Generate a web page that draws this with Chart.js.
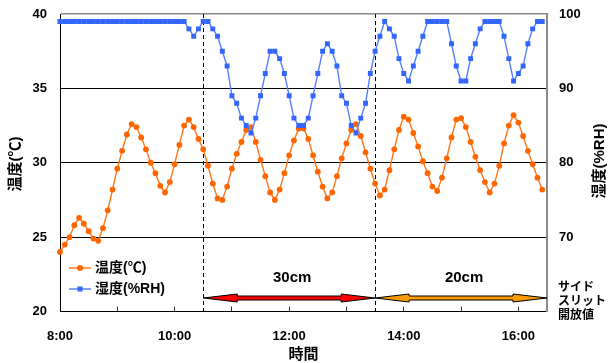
<!DOCTYPE html>
<html lang="ja">
<head>
<meta charset="utf-8">
<title>温度・湿度の推移</title>
<script src="https://cdn.jsdelivr.net/npm/chart.js@4/dist/chart.umd.min.js"></script>
<style>
  html, body { margin: 0; padding: 0; background: #fff; }
  #wrap { width: 610px; height: 363px; position: relative; }
  canvas { display: block; }
</style>
</head>
<body>
<div id="wrap"><canvas id="chart" width="610" height="363"></canvas></div>
<script>
// 5-minute sampling times; the last entry only closes the axis at 16:30
const sampleTimes = [
  '8:00','8:05','8:10','8:15','8:20','8:25','8:30','8:35','8:40','8:45','8:50','8:55',
  '9:00','9:05','9:10','9:15','9:20','9:25','9:30','9:35','9:40','9:45','9:50','9:55',
  '10:00','10:05','10:10','10:15','10:20','10:25','10:30','10:35','10:40','10:45','10:50','10:55',
  '11:00','11:05','11:10','11:15','11:20','11:25','11:30','11:35','11:40','11:45','11:50','11:55',
  '12:00','12:05','12:10','12:15','12:20','12:25','12:30','12:35','12:40','12:45','12:50','12:55',
  '13:00','13:05','13:10','13:15','13:20','13:25','13:30','13:35','13:40','13:45','13:50','13:55',
  '14:00','14:05','14:10','14:15','14:20','14:25','14:30','14:35','14:40','14:45','14:50','14:55',
  '15:00','15:05','15:10','15:15','15:20','15:25','15:30','15:35','15:40','15:45','15:50','15:55',
  '16:00','16:05','16:10','16:15','16:20','16:25','16:30'
];

// 温度 (℃)
const temperature = [
  24.0, 24.5, 25.0, 25.8, 26.3, 25.9, 25.4, 24.9, 24.75, 25.6, 26.8, 28.2,
  29.6, 30.8, 31.9, 32.6, 32.4, 31.7, 30.9, 30.0, 29.3, 28.45, 28.0, 28.7,
  29.9, 31.2, 32.5, 32.9, 32.4, 31.6, 30.9, 29.8, 28.6, 27.6, 27.5, 28.4,
  29.6, 30.6, 31.4, 32.2, 32.4, 31.4, 30.2, 29.1, 28.0, 27.5, 28.2, 29.3,
  30.5, 31.5, 32.3, 32.3, 31.6, 30.5, 29.4, 28.4, 27.6, 28.0, 29.1, 30.3,
  31.3, 32.2, 32.6, 31.8, 30.7, 29.6, 28.6, 27.8, 28.2, 29.5, 30.9, 32.2,
  33.1, 32.9, 32.0, 31.1, 30.1, 29.3, 28.4, 28.1, 29.0, 30.3, 31.7, 32.9,
  33.0, 32.4, 31.4, 30.4, 29.5, 28.7, 28.0, 28.6, 29.8, 31.3, 32.5, 33.2,
  32.7, 31.8, 30.8, 29.9, 29.0, 28.2
];

// 湿度 (%RH)
const humidity = [
  99, 99, 99, 99, 99, 99, 99, 99, 99, 99, 99, 99,
  99, 99, 99, 99, 99, 99, 99, 99, 99, 99, 99, 99,
  99, 99, 99, 98, 97, 98, 99, 99, 98, 97, 95, 93,
  89, 88, 86, 85, 84, 86, 89, 92, 95, 95, 94, 92,
  89, 86, 85, 85, 86, 89, 92, 95, 96, 95, 93, 89,
  88, 85, 84, 86, 88, 92, 95, 97, 99, 98, 97, 94,
  92, 91, 93, 95, 97, 99, 99, 99, 99, 99, 96, 93,
  91, 91, 94, 96, 98, 99, 99, 99, 99, 97, 94, 91,
  92, 93, 96, 98, 99, 99
];

// Axis ticks
const tempTicks = [20, 25, 30, 35, 40];
const humidTicks = [70, 80, 90, 100];
const hourLabels = ['8:00', '10:00', '12:00', '14:00', '16:00'];

// サイドスリット開放値 periods
const slitFrom = ['10:30', '13:30'];
const slitTo = ['13:30', '16:30'];
const slitWidths = ['30cm', '20cm'];

const seriesNames = ['温度(℃)', '湿度(%RH)'];

const COLORS = {
  temp: '#ff6600',
  tempLine: '#ff7518',
  humid: '#3366ff',
  humidLine: '#5580ff',
  slits: ['#ff0000', '#ff9a00']
};
const FONT = "'Liberation Sans', 'Noto Sans CJK JP', sans-serif";

Chart.defaults.font.family = FONT;
Chart.defaults.font.weight = 'bold';
Chart.defaults.color = '#000';

const overlay = {
  id: 'overlay',
  beforeDatasetsDraw(chart) {
    const { ctx, chartArea: a, scales: { x } } = chart;
    const marks = [...new Set([...slitFrom, ...slitTo])]
      .filter(t => t !== sampleTimes[sampleTimes.length - 1]);
    ctx.save();
    ctx.strokeStyle = '#000';
    ctx.lineWidth = 1;
    ctx.setLineDash([4, 3]);
    marks.forEach(t => {
      const px = Math.round(x.getPixelForValue(sampleTimes.indexOf(t))) + 0.5;
      ctx.beginPath();
      ctx.moveTo(px, a.top);
      ctx.lineTo(px, a.bottom);
      ctx.stroke();
    });
    ctx.restore();
  },
  afterDraw(chart) {
    const { ctx, chartArea: a, scales: { x } } = chart;
    ctx.save();

    // slit opening arrows with their widths
    const ay = a.bottom - 13.5;
    slitFrom.forEach((from, i) => {
      const x0 = x.getPixelForValue(sampleTimes.indexOf(from));
      const x1 = x.getPixelForValue(sampleTimes.indexOf(slitTo[i]));
      const head = 34, hw = 4, bw = 2;
      ctx.beginPath();
      ctx.moveTo(x0, ay);
      ctx.lineTo(x0 + head, ay - hw);
      ctx.lineTo(x0 + head, ay - bw);
      ctx.lineTo(x1 - head, ay - bw);
      ctx.lineTo(x1 - head, ay - hw);
      ctx.lineTo(x1, ay);
      ctx.lineTo(x1 - head, ay + hw);
      ctx.lineTo(x1 - head, ay + bw);
      ctx.lineTo(x0 + head, ay + bw);
      ctx.lineTo(x0 + head, ay + hw);
      ctx.closePath();
      ctx.fillStyle = COLORS.slits[i];
      ctx.fill();
      ctx.lineWidth = 1;
      ctx.strokeStyle = '#000';
      ctx.stroke();

      ctx.fillStyle = '#000';
      ctx.font = `bold 15px ${FONT}`;
      ctx.textAlign = 'center';
      ctx.textBaseline = 'middle';
      ctx.fillText(slitWidths[i], (x0 + x1) / 2 + 3, a.bottom - 34);
    });

    // legend inside the plot
    const styles = [
      { line: COLORS.tempLine, mark: COLORS.temp, shape: 'circle' },
      { line: COLORS.humidLine, mark: COLORS.humid, shape: 'rect' }
    ];
    seriesNames.forEach((name, i) => {
      const ly = a.bottom - 43.5 + i * 21;
      const lx = a.left + 9;
      ctx.strokeStyle = styles[i].line;
      ctx.lineWidth = 1.5;
      ctx.beginPath();
      ctx.moveTo(lx, ly);
      ctx.lineTo(lx + 22, ly);
      ctx.stroke();
      ctx.fillStyle = styles[i].mark;
      if (styles[i].shape === 'circle') {
        ctx.beginPath();
        ctx.arc(lx + 11, ly, 3, 0, Math.PI * 2);
        ctx.fill();
      } else {
        ctx.fillRect(lx + 8.5, ly - 2.5, 5, 5);
      }
      ctx.fillStyle = '#000';
      ctx.font = `bold 14px ${FONT}`;
      ctx.textAlign = 'left';
      ctx.textBaseline = 'middle';
      ctx.fillText(name, lx + 26, ly + 0.5);
    });

    // axis titles
    ctx.font = `bold 15px ${FONT}`;
    ctx.textAlign = 'center';
    ctx.textBaseline = 'middle';
    ctx.save();
    ctx.translate(16, 164);
    ctx.rotate(-Math.PI / 2);
    ctx.fillText('温度(℃)', 0, 0);
    ctx.restore();
    ctx.save();
    ctx.translate(600, 161);
    ctx.rotate(-Math.PI / 2);
    ctx.fillText('湿度(%RH)', 0, 0);
    ctx.restore();

    ctx.font = `bold 15px ${FONT}`;
    ctx.fillText('時間', (a.left + a.right) / 2, 355);

    // side label under the humidity axis
    ctx.font = `bold 12px ${FONT}`;
    ctx.textAlign = 'left';
    ['サイド', 'スリット', '開放値'].forEach((t, i) => {
      ctx.fillText(t, a.right + 11, a.bottom - 24 + i * 14);
    });

    ctx.restore();
  }
};

// vertical axes: fixed width and no extra label padding above/below
const fitVertical = width => s => {
  s.width = width;
  s.paddingTop = 0;
  s.paddingBottom = 0;
};

new Chart(document.getElementById('chart'), {
  type: 'line',
  data: {
    labels: sampleTimes,
    datasets: [
      {
        label: seriesNames[0],
        data: temperature,
        yAxisID: 'y',
        order: 1,
        borderColor: COLORS.tempLine,
        backgroundColor: COLORS.temp,
        borderWidth: 1.4,
        pointStyle: 'circle',
        pointRadius: 2.9,
        pointBorderWidth: 0,
        tension: 0
      },
      {
        label: seriesNames[1],
        data: humidity,
        yAxisID: 'y2',
        order: 0,
        borderColor: COLORS.humidLine,
        backgroundColor: COLORS.humid,
        borderWidth: 1.4,
        pointStyle: 'rect',
        pointRadius: 3.5,
        pointBorderWidth: 0,
        tension: 0
      }
    ]
  },
  options: {
    responsive: false,
    animation: false,
    devicePixelRatio: 1,
    layout: { padding: { top: 14, left: 0, right: 0, bottom: 0 } },
    plugins: { legend: { display: false }, tooltip: { enabled: false } },
    scales: {
      x: {
        type: 'category',
        offset: false,
        afterFit: s => { s.height = 51.5; s.paddingLeft = 0; s.paddingRight = 0; },
        afterBuildTicks: s => {
          s.ticks = s.ticks.filter(t => sampleTimes[t.value].endsWith(':00'));
        },
        border: { color: '#000', width: 1 },
        grid: { drawOnChartArea: false, drawTicks: true, tickLength: -5, color: '#333' },
        ticks: {
          autoSkip: false,
          maxRotation: 0,
          padding: 22.5,
          font: { size: 13, weight: 'bold' },
          callback: function (v) {
            const lbl = sampleTimes[v];
            return hourLabels.includes(lbl) ? lbl : '';
          }
        }
      },
      y: {
        position: 'left',
        min: tempTicks[0],
        max: tempTicks[tempTicks.length - 1],
        afterFit: fitVertical(60),
        afterBuildTicks: s => { s.ticks = tempTicks.map(v => ({ value: v })); },
        border: { color: '#000', width: 1 },
        grid: {
          drawTicks: false,
          color: c => (c.tick && c.tick.value === tempTicks[tempTicks.length - 1]) ? '#8a8a8a' : '#000',
          lineWidth: c => (c.tick && c.tick.value === tempTicks[tempTicks.length - 1]) ? 1.6 : 1
        },
        ticks: { padding: 13, font: { size: 13, weight: 'bold' } }
      },
      y2: {
        position: 'right',
        min: 60,
        max: 100,
        afterFit: fitVertical(63),
        afterBuildTicks: s => { s.ticks = humidTicks.map(v => ({ value: v })); },
        border: { color: '#8a8a8a', width: 2 },
        grid: { drawOnChartArea: false, drawTicks: false },
        ticks: { padding: 12, font: { size: 13, weight: 'bold' } }
      }
    }
  },
  plugins: [overlay]
});
</script>
</body>
</html>
